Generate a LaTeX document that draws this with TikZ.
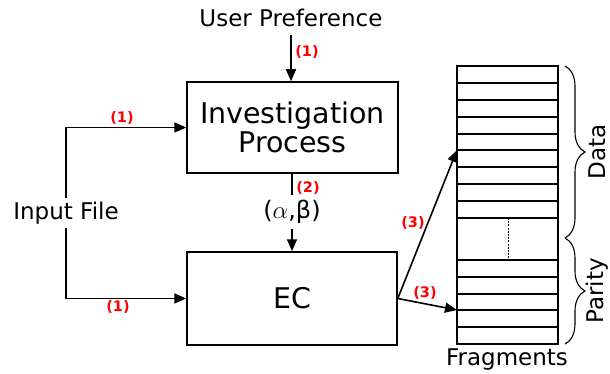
\documentclass[tikz,border=0pt]{standalone}
\usepackage{fontspec}
\setmainfont{DejaVu Sans}
\usetikzlibrary{arrows.meta,decorations.pathreplacing}
\begin{document}
\begin{tikzpicture}[x=1pt,y=-1pt,
  box/.style={draw,line width=1.5pt,inner sep=0pt},
  conn/.style={line width=1.6pt,-{Triangle[length=12pt,width=10pt]}},
  plain/.style={line width=1.6pt},
  tag/.style={text=red,font=\fontsize{14.5}{16}\selectfont\bfseries,inner sep=0pt},
  bigtxt/.style={font=\fontsize{28.5}{33}\selectfont},
  midtxt/.style={font=\fontsize{23}{27}\selectfont},
  fragline/.style={line width=1.5pt},
  brc/.style={line width=1.1pt,decorate,decoration={brace,amplitude=20pt,aspect=0.5}}]
\useasboundingbox (0,0) rectangle (610,374);

% main boxes
\node[box,minimum width=211pt,minimum height=91pt,bigtxt,align=center] (ip) at (292.5,127.5) {Investigation\\[-4pt]Process};
\node[box,minimum width=210pt,minimum height=93pt,bigtxt] (ec) at (292,298.5) {EC};

% labels outside the boxes
\node[midtxt,inner sep=0pt] (up) at (291,18) {User Preference};
\node[midtxt,inner xsep=0pt,inner ysep=0pt,minimum height=30pt] (inp) at (66,213) {Input File};
\node[font=\fontsize{24}{28}\selectfont,inner sep=0pt,minimum height=33pt] (ab) at (292,212) {($\alpha$,β)};
\node[midtxt,inner sep=0pt] (frg) at (507,360) {Fragments};

% user preference into the investigation process
\draw[conn] (up.south |- 0,35) -- (up.south |- ip.north);
\node[tag] at (307,52) {(1)};

% input file into both boxes
\draw[conn] (inp.north) |- (ip.west);
\draw[conn] (inp.south) |- (ec.west);
\node[tag] at (122,118) {(1)};
\node[tag] at (118,307) {(1)};

% parameters handed from the investigation process to EC
\draw[plain] (ip.south -| ab.north) -- (ab.north);
\draw[conn] (ab.south) -- (ab.south |- ec.north);
\node[tag] at (308,188) {(2)};

% fragment stack
\draw[fragline] (457,66) rectangle (558,344);
\foreach \yy in {83,100,117,134,150,167,184,201,218,260,277,294,310,327} {
  \draw[fragline] (457,\yy) -- (558,\yy);
}
\draw[line width=1pt,dash pattern=on 2pt off 1.2pt] (508,218) -- (508,260);
\coordinate (dfrag) at (457,150);
\coordinate (pfrag) at (457,310);

% EC writes fragments
\draw[conn] (ec.east) -- (dfrag);
\draw[conn] (ec.east) -- (pfrag);
\node[tag] at (413,223) {(3)};
\node[tag] at (425,293) {(3)};

% groups of fragments
\draw[brc] (565,66) -- (565,238);
\draw[brc] (565,238) -- (565,344);
\node[midtxt,rotate=90,inner sep=0pt] (dat) at (597,152) {Data};
\node[midtxt,rotate=90,inner sep=0pt] (par) at (597,291) {Parity};
\end{tikzpicture}
\end{document}
